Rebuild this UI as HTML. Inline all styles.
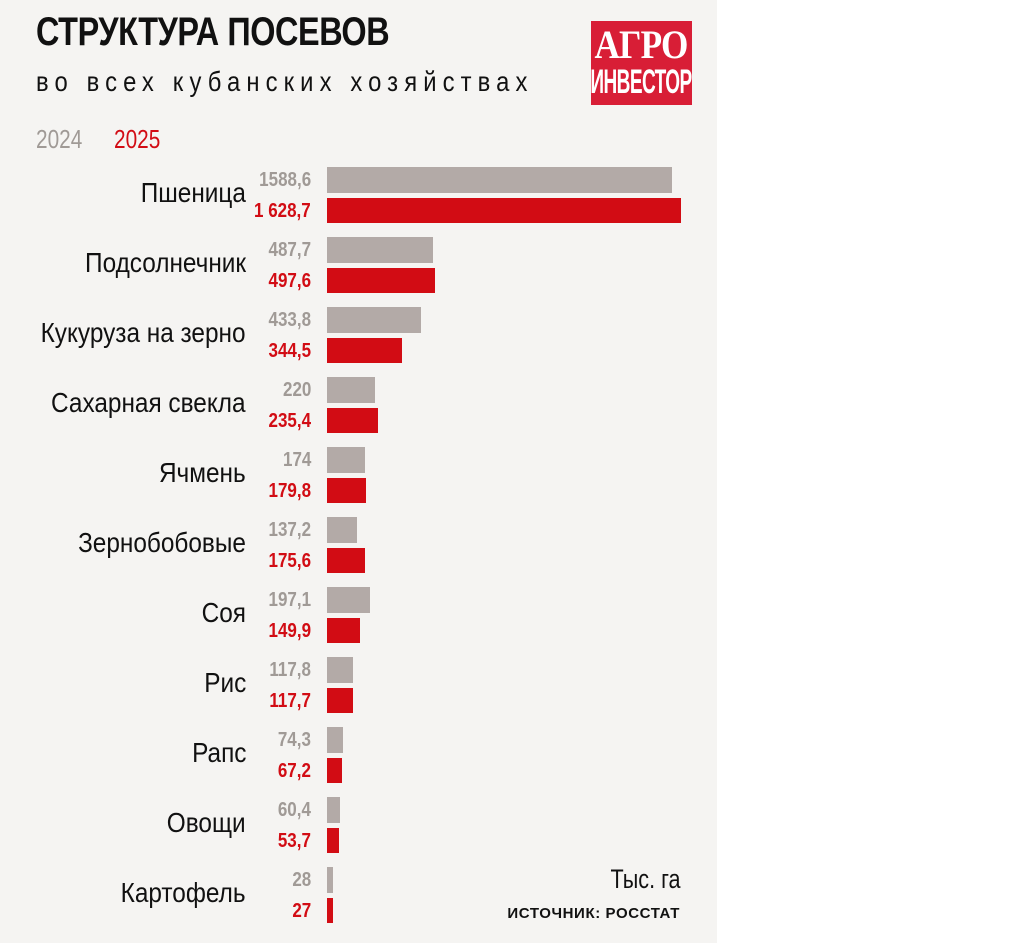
<!DOCTYPE html><html><head><meta charset="utf-8"><style>
body{margin:0;width:1018px;height:943px;background:#fff;position:relative;overflow:hidden;font-family:"Liberation Sans",sans-serif}
#bg{position:absolute;left:0;top:0;width:717px;height:943px;background:#f5f4f2}
.a{position:absolute;white-space:nowrap}
.cat{right:772px;font-size:28px;color:#111;line-height:30px;transform:scaleX(0.87);transform-origin:right center}
.v{right:707px;font-size:20px;line-height:22px;font-weight:bold;transform:scaleX(0.85);transform-origin:right center}
.g{color:#a09a96}.r{color:#d20c14}
.b{position:absolute;left:327px}
.bg{background:#b3aaa7;height:26px}.br{background:#d20c14;height:25px}
</style></head><body><div id="bg"></div>
<div class="a" style="left:36px;top:10px;font-size:40px;font-weight:bold;color:#111;letter-spacing:-0.5px;transform:scaleX(0.81);transform-origin:left center">СТРУКТУРА ПОСЕВОВ</div>
<div class="a" style="left:36px;top:66px;font-size:28px;color:#111;letter-spacing:7.2px;transform:scaleX(0.85);transform-origin:left center">во всех кубанских хозяйствах</div>
<div class="a" style="left:591px;top:21px;width:101px;height:84px;background:#d81e36;color:#fff;font-weight:bold;overflow:hidden">
<div class="a" style="left:50px;top:4px;font-family:'Liberation Serif',serif;font-size:40px;line-height:40px;letter-spacing:-1px;transform:translateX(-50%) scaleX(0.88)">АГРО</div>
<div class="a" style="left:50px;top:43px;font-size:34px;line-height:36px;letter-spacing:-1px;transform:translateX(-50%) scaleX(0.56)">ИНВЕСТОР</div></div>
<div class="a g" style="left:36px;top:124px;font-size:26px;transform:scaleX(0.8);transform-origin:left center">2024</div>
<div class="a r" style="left:114px;top:124px;font-size:26px;transform:scaleX(0.8);transform-origin:left center">2025</div>
<div id="rows"></div>
<div class="a" style="right:338px;top:864px;font-size:27px;color:#111;transform:scaleX(0.8);transform-origin:right center">Тыс. га</div>
<div class="a" style="right:338px;top:905px;font-size:15px;font-weight:bold;color:#111;letter-spacing:0.6px">ИСТОЧНИК: РОССТАТ</div>
<script>
var d=[["Пшеница","1588,6","1 628,7",1588.6,1628.7],["Подсолнечник","487,7","497,6",487.7,497.6],["Кукуруза на зерно","433,8","344,5",433.8,344.5],["Сахарная свекла","220","235,4",220,235.4],["Ячмень","174","179,8",174,179.8],["Зернобобовые","137,2","175,6",137.2,175.6],["Соя","197,1","149,9",197.1,149.9],["Рис","117,8","117,7",117.8,117.7],["Рапс","74,3","67,2",74.3,67.2],["Овощи","60,4","53,7",60.4,53.7],["Картофель","28","27",28,27]];
var h="",k=0.2172;
d.forEach(function(e,i){var y=70*i;
h+='<div class="a cat" style="top:'+(178+y)+'px">'+e[0]+'</div>';
h+='<div class="a v g" style="top:'+(169+y)+'px">'+e[1]+'</div>';
h+='<div class="a v r" style="top:'+(200+y)+'px">'+e[2]+'</div>';
h+='<div class="b bg" style="top:'+(167+y)+'px;width:'+Math.round(e[3]*k)+'px"></div>';
h+='<div class="b br" style="top:'+(198+y)+'px;width:'+Math.max(5,Math.round(e[4]*k))+'px"></div>';});
document.getElementById("rows").innerHTML=h;
</script></body></html>
